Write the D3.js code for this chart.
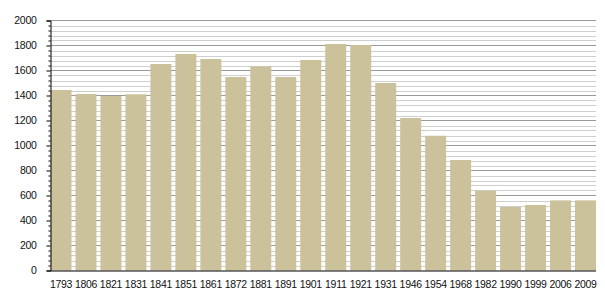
<!DOCTYPE html>
<html><head><meta charset="utf-8">
<script src="https://cdn.jsdelivr.net/npm/d3@7"></script>
<style>body{margin:0;background:#fff;}svg{display:block;}text{font-family:"Liberation Sans",Arial,sans-serif;}</style>
</head><body>
<script>
const years = ["1793","1806","1821","1831","1841","1851","1861","1872","1881","1891","1901","1911","1921","1931","1946","1954","1968","1982","1990","1999","2006","2009"];
const population = [1444,1412,1396,1410,1652,1732,1692,1548,1633,1548,1684,1812,1804,1500,1220,1078,884,638,508,524,561,561];
const yMajorTicks = [0,200,400,600,800,1000,1200,1400,1600,1800,2000];

(function(){
const W = 605, H = 300;
const svg = d3.select("body").append("svg").attr("width", W).attr("height", H);
const mLeft = 50.5, mRight = 596, mTop = 20.5, mBottom = 270.5;

const x = d3.scaleBand().domain(years).range([mLeft, mRight]).paddingInner(0.16).paddingOuter(0);
const y = d3.scaleLinear().domain([0, 2000]).range([mBottom, mTop]);

const minorTicks = d3.range(0, 2001, 40).filter(v => v % 200 !== 0);

// minor grid
svg.append("g").selectAll("line").data(minorTicks).join("line")
  .attr("x1", mLeft).attr("x2", mRight)
  .attr("y1", d => Math.round(y(d)) + 0.5).attr("y2", d => Math.round(y(d)) + 0.5)
  .attr("stroke", "#cfcfcf").attr("stroke-width", 1);
// major grid
svg.append("g").selectAll("line").data(yMajorTicks.filter(v => v > 0)).join("line")
  .attr("x1", mLeft).attr("x2", mRight)
  .attr("y1", d => y(d)).attr("y2", d => y(d))
  .attr("stroke", "#9a9a9a").attr("stroke-width", 1);

// bars
svg.append("g").selectAll("rect").data(years).join("rect")
  .attr("x", d => x(d)).attr("width", x.bandwidth())
  .attr("y", (d, i) => y(population[i]))
  .attr("height", (d, i) => mBottom - y(population[i]))
  .attr("fill", "#cbc29b");

// y axis major
const yAxis = d3.axisLeft(y).tickValues(yMajorTicks).tickSize(4).tickPadding(10).tickFormat(d3.format("d"));
const gy = svg.append("g").attr("transform", `translate(${mLeft},0)`).call(yAxis);
gy.select(".domain").attr("stroke", "#000");
gy.selectAll(".tick line").attr("stroke", "#000");
gy.selectAll("text").attr("font-size", 10.5).attr("fill", "#111").attr("letter-spacing", "-0.3px")
  .attr("font-family", "'Liberation Sans',Arial,sans-serif");
// y axis minor ticks
const yMinor = d3.axisLeft(y).tickValues(minorTicks).tickSize(2).tickFormat("");
const gym = svg.append("g").attr("transform", `translate(${mLeft},0)`).call(yMinor);
gym.select(".domain").remove();
gym.selectAll(".tick line").attr("stroke", "#000");

// x axis
const xAxis = d3.axisBottom(x).tickSize(0).tickPadding(10);
const gx = svg.append("g").attr("transform", `translate(0,${mBottom})`).call(xAxis);
gx.select(".domain").attr("stroke", "#000").attr("d", `M${mLeft},0.5H${mRight}`);
gx.selectAll("text").attr("font-size", 10.5).attr("fill", "#111").attr("letter-spacing", "-0.3px")
  .attr("font-family", "'Liberation Sans',Arial,sans-serif");
})();
</script>
</body></html>
